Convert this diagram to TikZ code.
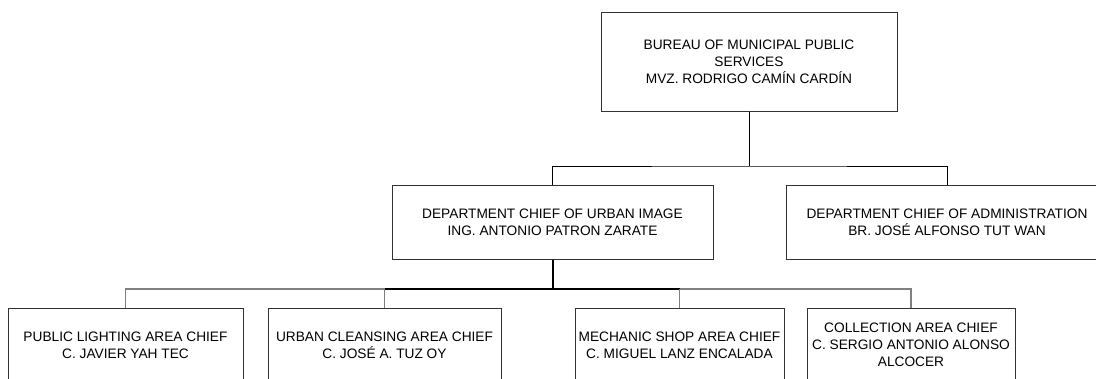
\documentclass[tikz,border=0pt]{standalone}
\usepackage{fontspec}
\setmainfont{Liberation Sans}
\begin{document}
\begin{tikzpicture}[x=1pt,y=-1pt,
  box/.style={draw=black!80, line width=1pt, fill=white, align=center,
    inner sep=0pt, font=\fontsize{13.7}{17}\selectfont},
  link/.style={draw=black, line width=1pt},
  branch/.style={draw=black!50, line width=1.2pt},
  bus/.style={draw=black, line width=2pt}]
\useasboundingbox (0,0) rectangle (1096,378);
\clip (0,0) rectangle (1096,378);
\fill[white] (0,0) rectangle (1096,378);

% top level
\node[box, minimum width=296pt, minimum height=99pt] (bureau) at (749,61.5)
  {BUREAU OF MUNICIPAL PUBLIC\\SERVICES\\MVZ. RODRIGO CAMÍN CARDÍN};

% departments
\node[box, minimum width=321pt, minimum height=74pt] (urban) at (552.5,222)
  {DEPARTMENT CHIEF OF URBAN IMAGE\\ING. ANTONIO PATRON ZARATE};
\node[box, minimum width=322pt, minimum height=74pt] (admin) at (947,222)
  {DEPARTMENT CHIEF OF ADMINISTRATION\\BR. JOSÉ ALFONSO TUT WAN};

% area chiefs
\node[box, minimum width=235pt, minimum height=74pt] (light) at (125.5,345)
  {PUBLIC LIGHTING AREA CHIEF\\C. JAVIER YAH TEC};
\node[box, minimum width=233pt, minimum height=74pt] (clean) at (384.5,345)
  {URBAN CLEANSING AREA CHIEF\\C. JOSÉ A. TUZ OY};
\node[box, minimum width=209pt, minimum height=74pt] (shop) at (679.5,345)
  {MECHANIC SHOP AREA CHIEF\\C. MIGUEL LANZ ENCALADA};
\node[box, minimum width=208pt, minimum height=74pt] (collect) at (911,345)
  {COLLECTION AREA CHIEF\\C. SERGIO ANTONIO ALONSO\\ALCOCER};

% junctions
\coordinate (j1) at (749,166);
\coordinate (j2) at (552.5,289);

% bureau to departments
\draw[link] (bureau.south) -- (j1);
\draw[link] (urban.north) |- (j1) -| (admin.north);

% urban image to area chiefs
\draw[bus] (urban.south) -- (j2);
\draw[bus] (j2 -| clean.north) -- (j2 -| shop.north);
\draw[branch] (light.north) |- (j2 -| clean.north);
\draw[branch] (clean.north) -- (j2 -| clean.north);
\draw[branch] (shop.north) -- (j2 -| shop.north);
\draw[branch] (collect.north) |- (j2 -| shop.north);
\end{tikzpicture}
\end{document}
